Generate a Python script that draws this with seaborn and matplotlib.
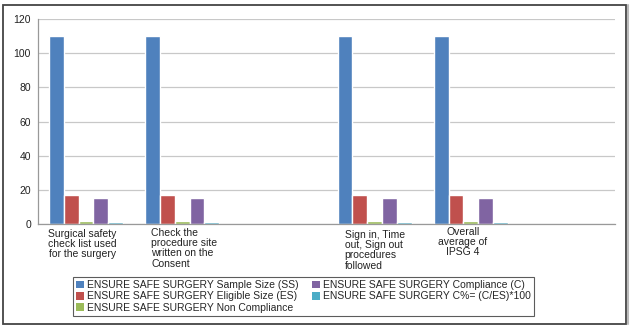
import matplotlib
matplotlib.use("Agg")
import matplotlib.pyplot as plt
import matplotlib.transforms as mtransforms
from matplotlib.patches import Rectangle
from matplotlib.lines import Line2D
import numpy as np
import pandas as pd
import seaborn as sns

# Categories (two empty slots kept on the axis)
categories = [
    "Surgical safety\ncheck list used\nfor the surgery",
    "Check the\nprocedure site\nwritten on the\nConsent",
    "",
    "Sign in, Time\nout, Sign out\nprocedures\nfollowed",
    "Overall\naverage of\nIPSG 4",
    " ",
]
series = [
    "ENSURE SAFE SURGERY Sample Size (SS)",
    "ENSURE SAFE SURGERY Eligible Size (ES)",
    "ENSURE SAFE SURGERY Non Compliance",
    "ENSURE SAFE SURGERY Compliance (C)",
    "ENSURE SAFE SURGERY C%= (C/ES)*100",
]
sample_size = [110, 110, np.nan, 110, 110, np.nan]
eligible_size = [17, 17, np.nan, 17, 17, np.nan]
non_compliance = [2, 2, np.nan, 2, 2, np.nan]
compliance = [15, 15, np.nan, 15, 15, np.nan]
compliance_pct = [0.88, 0.88, np.nan, 0.88, 0.88, np.nan]
y_ticks = [0, 20, 40, 60, 80, 100, 120]

colors = ["#4F81BD", "#C0504D", "#9BBB59", "#8064A2", "#4BACC6"]

rows = []
for name, vals in zip(series, [sample_size, eligible_size, non_compliance,
                               compliance, compliance_pct]):
    for cat, v in zip(categories, vals):
        rows.append({"category": cat, "series": name, "value": v})
df = pd.DataFrame(rows)

sns.set_style("white")
plt.rcParams["font.family"] = ["Liberation Sans", "DejaVu Sans"]
FS = 7.5

fig = plt.figure(figsize=(6.32, 3.30), dpi=100)
ax = fig.add_axes([38 / 632, 1 - 224 / 330, 577 / 632, 205 / 330])

sns.barplot(data=df, x="category", y="value", hue="series", order=categories,
            hue_order=series, palette=colors, width=0.77, errorbar=None,
            saturation=1, ax=ax, legend=True)

handles, labels = ax.get_legend_handles_labels()
ax.get_legend().remove()

ax.set_ylim(0, 120)
ax.set_xlim(-0.5, len(categories) - 0.5)
ax.set_yticks(y_ticks)
ax.set_yticklabels([str(t) for t in y_ticks], fontsize=FS, color="#222222")
ax.yaxis.grid(True, color="#c8c8c8", linewidth=0.9)
ax.set_axisbelow(True)
ax.set_xlabel("")
ax.set_ylabel("")

# category boundary ticks on the x axis
ax.set_xticks(np.arange(len(categories) + 1) - 0.5)
ax.set_xticklabels([])
ax.tick_params(axis="x", length=4, color="#999999", width=0.8)
ax.tick_params(axis="y", length=4, color="#999999", width=0.8, pad=1)

for side in ["top", "right"]:
    ax.spines[side].set_visible(False)
for side in ["left", "bottom"]:
    ax.spines[side].set_color("#999999")
    ax.spines[side].set_linewidth(0.9)

# wrapped category labels below the axis: (x shift, line alignment, y nudge)
label_layout = [(-0.04, "center", 0), (0.02, "left", 1),
                (None, None, 0), (0.0, "left", -1),
                (-0.08, "center", 2), (None, None, 0)]
trans = mtransforms.blended_transform_factory(ax.transData, fig.transFigure)
for i, (cat, (dx, ma, up)) in enumerate(zip(categories, label_layout)):
    if dx is None or not cat.strip():
        continue
    ax.text(i + dx, 1 - (229 - up) / 330, cat, transform=trans, ha="center",
            va="top", multialignment=ma, fontsize=FS, linespacing=1.03,
            color="#222222")

leg = fig.legend(handles, labels, ncol=2, loc="upper left",
                 bbox_to_anchor=(73 / 632, 1 - 277 / 330), fontsize=FS,
                 frameon=True, fancybox=False, edgecolor="#333333",
                 handlelength=0.75, handleheight=0.75, handletextpad=0.3,
                 columnspacing=1.3, labelspacing=0.12, borderpad=0.3,
                 borderaxespad=0)
leg.get_frame().set_linewidth(0.8)
for h in leg.legend_handles:
    h.set_edgecolor("none")

# outer frame around the whole chart
fig.patches.append(Rectangle((3 / 632, 6 / 330), 623 / 632, 319 / 330,
                             transform=fig.transFigure, fill=False,
                             edgecolor="#444444", linewidth=1.3))
fig.lines.append(Line2D([628 / 632, 628 / 632], [6 / 330, 325 / 330],
                        transform=fig.transFigure, color="#bbbbbb",
                        linewidth=1.5))

fig.savefig("out.png", dpi=100)
